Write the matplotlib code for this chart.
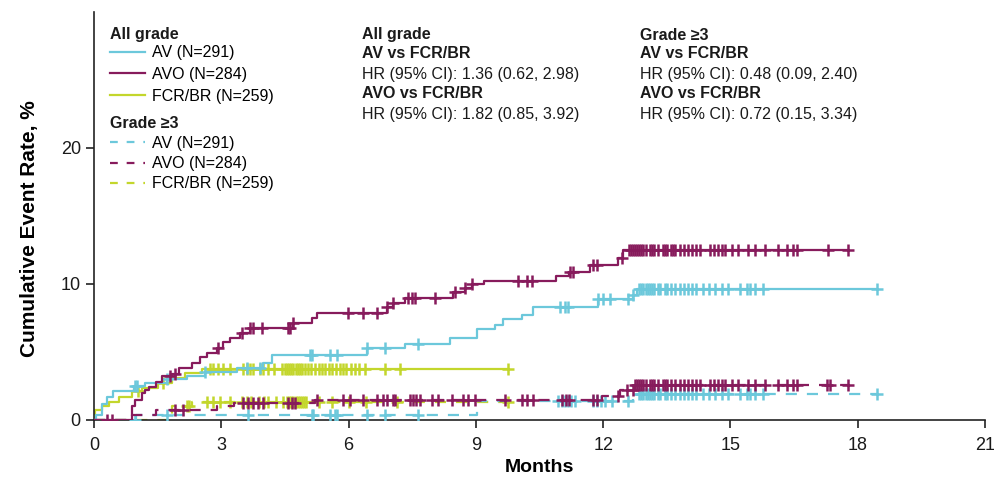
import numpy as np
import matplotlib
matplotlib.use("Agg")
import matplotlib.pyplot as plt
from matplotlib.lines import Line2D

plt.rcParams['font.family'] = ['Liberation Sans', 'DejaVu Sans']

# ---------------- data ----------------
months_ticks = [0, 3, 6, 9, 12, 15, 18, 21]
y_ticks = [0, 10, 20]

# All grade, step curves (time in months, cumulative event rate %)
av_t = [0, 0.05, 0.2, 0.3, 0.45, 0.95, 1.2, 1.72, 2.19, 2.62, 3.37, 3.98, 4.2, 6.43,
        7.33, 8.39, 9.03, 9.45, 9.64, 10.09, 10.35, 11.88, 12.7, 12.8, 18.45]
av_y = [0, 0.4, 1.2, 1.7, 2.1, 2.5, 2.7, 3.0, 3.2, 3.5, 3.8, 4.2, 4.8, 5.3,
        5.6, 6.0, 6.7, 7.0, 7.4, 7.7, 8.3, 8.9, 9.2, 9.6, 9.6]

avo_t = [0, 0.9, 0.97, 1.13, 1.21, 1.29, 1.45, 1.6, 1.84, 2.0, 2.3, 2.5, 2.66, 2.9,
         3.04, 3.2, 3.44, 3.68, 4.69, 5.14, 5.26, 6.9, 7.05, 7.33, 8.46, 8.74, 8.9,
         9.2, 10.9, 11.2, 11.7, 12.35, 12.47, 17.77]
avo_y = [0, 1.0, 1.5, 2.0, 2.2, 2.45, 2.8, 3.2, 3.4, 3.8, 4.2, 4.6, 4.9, 5.3,
         5.7, 6.0, 6.4, 6.8, 7.1, 7.5, 7.9, 8.3, 8.6, 9.0, 9.4, 9.7, 10.0,
         10.2, 10.6, 10.9, 11.4, 11.9, 12.5, 12.5]

fcr_t = [0, 0.02, 0.19, 0.35, 0.58, 0.9, 1.13, 1.52, 1.84, 2.15, 2.55, 9.76]
fcr_y = [0, 0.7, 1.0, 1.35, 1.7, 2.1, 2.35, 2.7, 3.1, 3.45, 3.75, 3.75]

# Grade >=3 step curves
av3_t = [0, 1.0, 9.03, 12.7, 18.45]
av3_y = [0, 0.4, 1.4, 1.9, 1.9]

avo3_t = [0, 0.9, 1.45, 2.9, 3.3, 5.2, 11.97, 12.4, 12.75, 17.77]
avo3_y = [0, 0.4, 0.75, 1.0, 1.25, 1.45, 1.8, 2.2, 2.6, 2.6]

fcr3_t = [0, 1.85, 2.3, 9.76]
fcr3_y = [0, 1.0, 1.3, 1.3]

# censoring times (months)
av_cens = [0.97, 1.01, 1.72, 2.62, 3.61, 3.91, 5.09, 5.14, 5.56, 5.73, 6.43, 6.86, 7.64,
           10.98, 11.1, 11.17, 11.88, 12.0, 12.16, 12.59, 12.7, 12.85, 12.9, 12.95, 13.0,
           13.05, 13.1, 13.15, 13.2, 13.3, 13.35, 13.45, 13.5, 13.6, 13.7, 13.8, 13.9,
           14.0, 14.1, 14.2, 14.35, 14.5, 14.64, 14.8, 14.94, 15.23, 15.39, 15.46,
           15.58, 15.77, 18.45]
avo_cens = [1.79, 1.91, 2.92, 3.49, 3.68, 3.75, 3.96, 4.57, 4.62, 4.69, 5.99, 6.34, 6.67,
            6.91, 7.05, 7.4, 7.49, 7.57, 8.04, 8.51, 8.74, 8.91, 9.99, 10.2, 10.32, 11.22,
            11.29, 11.76, 11.85, 12.44, 12.6, 12.65, 12.7, 12.75, 12.8, 12.85, 12.9, 12.95,
            13.0, 13.1, 13.15, 13.2, 13.3, 13.4, 13.45, 13.5, 13.6, 13.65, 13.7, 13.8,
            13.9, 14.0, 14.1, 14.2, 14.28, 14.52, 14.61, 14.71, 14.8, 14.87, 15.04, 15.18,
            15.41, 15.58, 15.81, 16.12, 16.33, 16.47, 16.57, 17.3, 17.77]
fcr_cens = [1.04, 1.63, 2.73, 2.8, 2.92, 3.04, 3.2, 3.51, 3.6, 3.68, 3.75, 3.91, 3.98,
            4.1, 4.25, 4.43, 4.5, 4.55, 4.6, 4.65, 4.7, 4.75, 4.8, 4.85, 4.9, 4.97, 5.04,
            5.12, 5.2, 5.3, 5.38, 5.45, 5.55, 5.62, 5.7, 5.8, 5.88, 5.95, 6.05, 6.15,
            6.25, 6.39, 6.86, 7.21, 9.76]
av3_cens = [0.97, 1.72, 3.63, 5.14, 5.16, 5.56, 5.68, 5.73, 6.43, 6.86, 7.64, 10.94,
            11.02, 11.1, 11.17, 11.25, 11.34, 11.76, 11.85, 11.95, 12.05, 12.2, 12.59,
            12.85, 12.9, 12.95, 13.0, 13.05, 13.1, 13.15, 13.2, 13.3, 13.35, 13.45, 13.5,
            13.6, 13.7, 13.8, 13.9, 14.0, 14.1, 14.2, 14.35, 14.5, 14.64, 14.8, 14.94,
            15.23, 15.39, 15.46, 15.58, 15.77, 18.45]
avo3_cens = [0.3, 0.43, 1.9, 2.1, 3.51, 3.63, 3.75, 3.87, 3.98, 4.57, 4.67, 4.74, 5.26,
             5.87, 6.03, 6.34, 6.67, 6.8, 6.91, 7.05, 7.1, 7.45, 7.52, 7.6, 7.68, 7.97,
             8.1, 8.44, 8.7, 8.81, 8.98, 9.69, 10.09, 10.2, 10.35, 11.03, 11.12, 11.2,
             11.76, 11.85, 12.35, 12.56, 12.7, 12.75, 12.8, 12.85, 12.9, 12.95, 13.0,
             13.1, 13.15, 13.2, 13.3, 13.4, 13.45, 13.5, 13.6, 13.7, 13.8, 13.9, 14.0,
             14.1, 14.2, 14.28, 14.52, 14.61, 14.71, 14.8, 14.87, 15.04, 15.18, 15.41,
             15.58, 15.81, 16.12, 16.33, 16.47, 16.57, 17.28, 17.35, 17.77]
fcr3_cens = [2.2, 2.23, 2.66, 2.8, 2.97, 3.2, 3.5, 3.6, 3.7, 3.9, 4.0, 4.1, 4.3, 4.45,
             4.55, 4.6, 4.65, 4.7, 4.75, 4.8, 4.85, 4.9, 4.95, 5.0, 5.3, 5.6, 6.0, 6.4,
             7.14, 9.76]

labels = ["AV (N=291)", "AVO (N=284)", "FCR/BR (N=259)"]

# ---------------- style ----------------
C_AV = "#6CC8DB"
C_AVO = "#871B5C"
C_FCR = "#C3D62C"
LW = 1.6
DASH = (0, (5, 4.5))

fig = plt.figure(figsize=(9.95, 4.84), dpi=100)
ax = fig.add_axes([94 / 995, 64 / 484, 891 / 995, 408 / 484])


def draw(t, y, cens, color, ls, z):
    t = np.asarray(t, float)
    y = np.asarray(y, float)
    ax.step(t, y, where="post", color=color, lw=LW, ls=ls, zorder=z,
            solid_capstyle="butt", dash_capstyle="butt")
    c = np.asarray(cens, float)
    idx = np.searchsorted(t, c, side="right") - 1
    idx = np.clip(idx, 0, len(y) - 1)
    ax.plot(c, y[idx], ls="none", marker="+", ms=9, mew=1.8, color=color, zorder=z)


draw(fcr3_t, fcr3_y, fcr3_cens, C_FCR, DASH, 2)
draw(av3_t, av3_y, av3_cens, C_AV, DASH, 3)
draw(avo3_t, avo3_y, avo3_cens, C_AVO, DASH, 4)
draw(fcr_t, fcr_y, fcr_cens, C_FCR, "-", 2)
draw(av_t, av_y, av_cens, C_AV, "-", 3)
draw(avo_t, avo_y, avo_cens, C_AVO, "-", 4)

ax.set_xlim(0, 21)
ax.set_ylim(0, 30)
ax.set_xticks(months_ticks)
ax.set_yticks(y_ticks)
for s in ["top", "right"]:
    ax.spines[s].set_visible(False)
for s in ["left", "bottom"]:
    ax.spines[s].set_linewidth(1.2)
    ax.spines[s].set_color("#222222")
ax.tick_params(axis="both", direction="out", length=6, width=1.2, colors="#222222",
               labelsize=13, labelcolor="#1a1a1a")
ax.tick_params(axis="x", pad=6)
ax.set_xlabel("Months", fontsize=14, fontweight="bold", labelpad=4)
ax.set_ylabel("Cumulative Event Rate, %", fontsize=15, fontweight="bold")
ax.yaxis.set_label_coords(-0.062, 0.47)

# legends (titles drawn as separate bold texts)
h_solid = [Line2D([], [], color=c, lw=LW) for c in (C_AV, C_AVO, C_FCR)]
h_dash = [Line2D([], [], color=c, lw=LW, ls=(0, (3.5, 4))) for c in (C_AV, C_AVO, C_FCR)]
leg1 = ax.legend(h_solid, labels, loc="upper left",
                 bbox_to_anchor=(0.005, 0.9453), frameon=False, fontsize=11.5,
                 handlelength=2.2, handletextpad=0.45,
                 labelspacing=0.41, borderaxespad=0.3)
ax.add_artist(leg1)
leg2 = ax.legend(h_dash, labels, loc="upper left",
                 bbox_to_anchor=(0.005, 0.7235), frameon=False, fontsize=11.5,
                 handlelength=2.2, handletextpad=0.45,
                 labelspacing=0.32, borderaxespad=0.3)
for title, ypx in (("All grade", 35), ("Grade \u22653", 124)):
    ax.text((110 - 94) / 891, (420 - ypx) / 408, title, transform=ax.transAxes,
            fontsize=11.5, fontweight="bold", ha="left", va="center", color="#1a1a1a")

# HR annotations
col1 = ["All grade", "AV vs FCR/BR", "HR (95% CI): 1.36 (0.62, 2.98)",
        "AVO vs FCR/BR", "HR (95% CI): 1.82 (0.85, 3.92)"]
col2 = ["Grade \u22653", "AV vs FCR/BR", "HR (95% CI): 0.48 (0.09, 2.40)",
        "AVO vs FCR/BR", "HR (95% CI): 0.72 (0.15, 3.34)"]
weights = ["bold", "bold", "normal", "bold", "normal"]
row_px = [35, 54, 74, 94, 114]
for xpx, col in ((362, col1), (640, col2)):
    for txt, w, ypx in zip(col, weights, row_px):
        ax.text((xpx - 94) / 891, (420 - ypx) / 408, txt, transform=ax.transAxes,
                fontsize=11.5, fontweight=w, ha="left", va="center", color="#1a1a1a")

fig.savefig("out.png", dpi=100)
